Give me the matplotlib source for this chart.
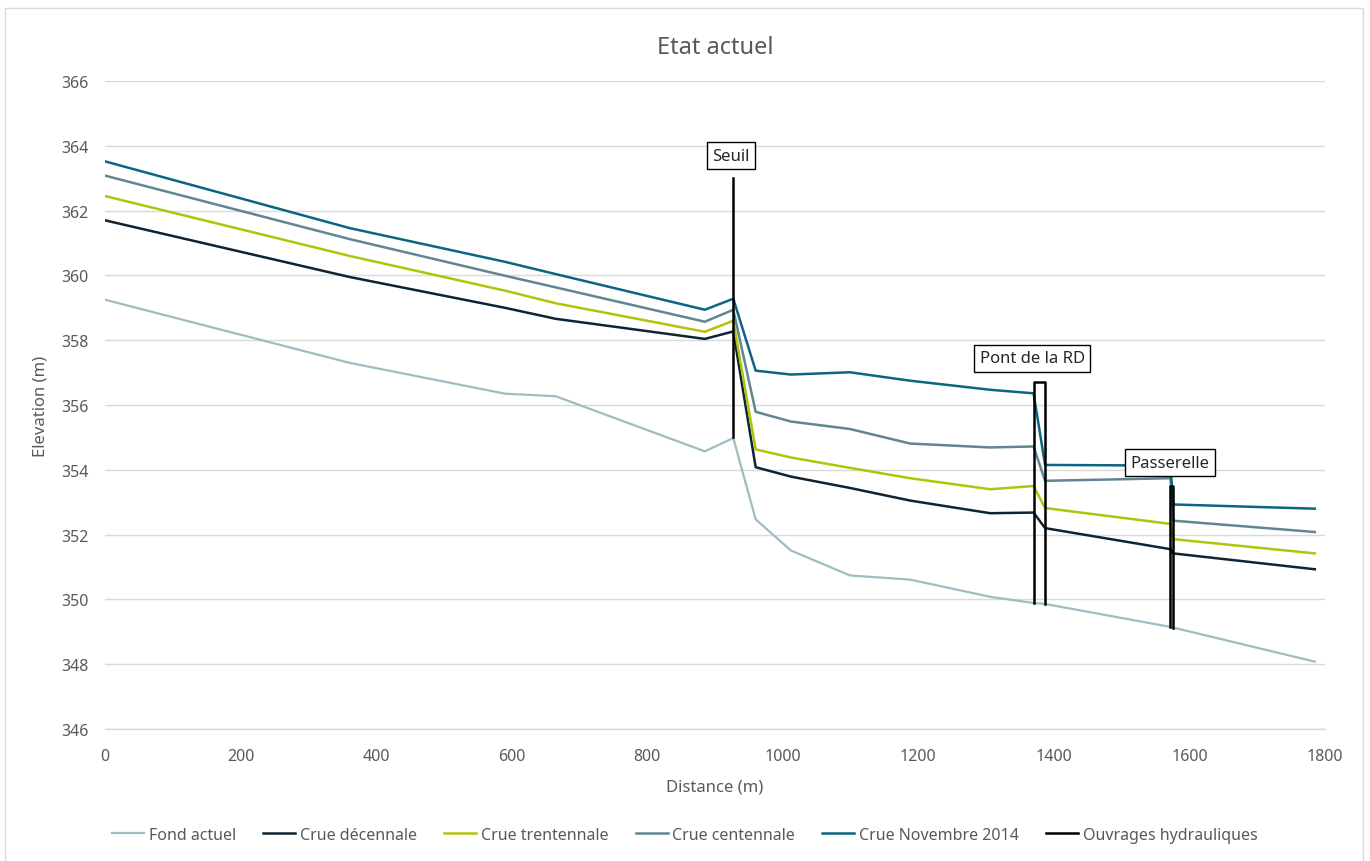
import numpy as np
import matplotlib
matplotlib.use('Agg')
import matplotlib.pyplot as plt
from matplotlib.patches import Rectangle

plt.rcParams['font.family'] = ['Noto Sans', 'DejaVu Sans']

# Profile sections (distance in m)
distance = [0, 361, 590, 665, 885, 927, 960, 1012, 1099, 1188, 1306, 1370, 1387, 1572, 1576, 1785]

fond_actuel = [359.25, 357.30, 356.35, 356.27, 354.57, 354.98, 352.47, 351.51, 350.74, 350.61,
               350.08, 349.89, 349.86, 349.15, 349.13, 348.08]
crue_decennale = [361.70, 359.95, 359.00, 358.66, 358.04, 358.27, 354.08, 353.79, 353.44, 353.05,
                  352.66, 352.68, 352.20, 351.55, 351.42, 350.93]
crue_trentennale = [362.45, 360.60, 359.53, 359.14, 358.26, 358.60, 354.63, 354.38, 354.06, 353.74,
                    353.40, 353.50, 352.82, 352.33, 351.86, 351.42]
crue_centennale = [363.08, 361.12, 359.99, 359.63, 358.57, 358.94, 355.79, 355.49, 355.26, 354.81,
                   354.69, 354.72, 353.66, 353.74, 352.43, 352.08]
crue_nov_2014 = [363.52, 361.46, 360.42, 360.04, 358.94, 359.28, 357.06, 356.94, 357.01, 356.75,
                 356.47, 356.36, 354.15, 354.13, 352.93, 352.80]

# Hydraulic structures (NaN separates the three structures)
ouvrages_x = [927, 927, np.nan, 1370, 1370, 1387, 1387, np.nan, 1572, 1572, 1576, 1576]
ouvrages_y = [355.0, 363.0, np.nan, 349.89, 356.7, 356.7, 349.86, np.nan, 349.15, 353.5, 353.5, 349.13]

labels_text = ['Seuil', 'Pont de la RD', 'Passerelle']
labels_x = [924, 1368, 1571]
labels_y = [363.69, 357.45, 354.21]

grey_txt = '#595959'

fig = plt.figure(figsize=(13.7, 8.62), dpi=100)
ax = fig.add_axes([105 / 1370, 1 - 730 / 862, 1220 / 1370, 648 / 862])

ax.plot(distance, fond_actuel, color='#9dbdc2', lw=1.6, label='Fond actuel')
ax.plot(distance, crue_decennale, color='#0d2433', lw=1.8, label='Crue décennale')
ax.plot(distance, crue_trentennale, color='#b2c30b', lw=1.8, label='Crue trentennale')
ax.plot(distance, crue_centennale, color='#608692', lw=1.8, label='Crue centennale')
ax.plot(distance, crue_nov_2014, color='#0b6583', lw=1.8, label='Crue Novembre 2014')
ax.plot(ouvrages_x, ouvrages_y, color='black', lw=1.8, label='Ouvrages hydrauliques', zorder=5)

for t, x, y in zip(labels_text, labels_x, labels_y):
    ax.text(x, y, t, ha='center', va='center', fontsize=12, color='#262626', zorder=10,
            bbox=dict(boxstyle='square,pad=0.33', facecolor='white', edgecolor='black', lw=1.0))

ax.set_xlim(0, 1800)
ax.set_ylim(346, 366)
ax.set_xticks(np.arange(0, 1801, 200))
ax.set_yticks(np.arange(346, 367, 2))
ax.grid(axis='y', color='#d9d9d9', lw=1.0)
ax.axhline(346, color='#d9d9d9', lw=1.0, clip_on=False, zorder=0.5)
ax.set_axisbelow(True)
for s in ax.spines.values():
    s.set_visible(False)
ax.tick_params(axis='both', length=0, labelsize=11.5, labelcolor=grey_txt)
ax.tick_params(axis='y', pad=12)
ax.tick_params(axis='x', pad=14)

ax.set_xlabel('Distance (m)', fontsize=12, color=grey_txt, labelpad=10)
ax.set_ylabel('Elevation (m)', fontsize=12, color=grey_txt, labelpad=9)
ax.set_title('Etat actuel', fontsize=17, color=grey_txt, pad=20)

fig.legend(loc='center', bbox_to_anchor=(0.5, 1 - 836 / 862), ncol=6, frameon=False,
           fontsize=11.5, handlelength=2.0, handletextpad=0.3, columnspacing=1.7,
           labelcolor=grey_txt)

fig.patches.append(Rectangle((5 / 1370, -0.01), 1358 / 1370, 1 - 9 / 862 + 0.01,
                             transform=fig.transFigure, fill=False, edgecolor='#d9d9d9', lw=1.0))

fig.savefig('out.png', dpi=100)
